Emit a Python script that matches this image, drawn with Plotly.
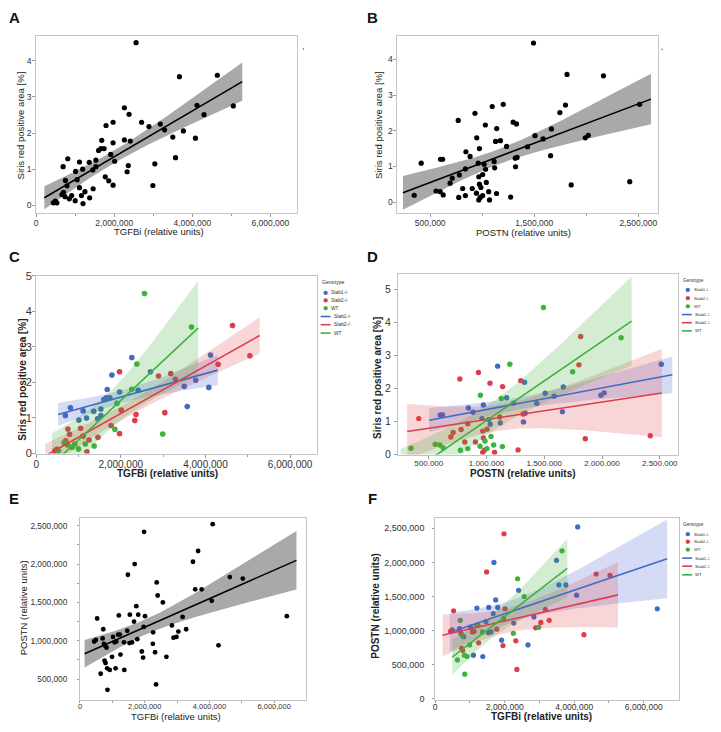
import numpy as np
import plotly.graph_objects as go

W, H = 721, 732
FONT = "Liberation Sans, Arial, sans-serif"

# ---------------- data: panels A & C (TGFBi vs Siris red area) ----------------
TS_STAB1_TGFBI = [690000, 810000, 1110000, 1010000, 1190000, 1360000, 1530000, 1450000, 1530000, 1600000, 1680000, 1660000, 1740000, 1790000, 1970000, 2260000, 2410000, 2700000, 3500000, 3570000, 3770000, 4080000, 4120000]
TS_STAB1_SIRIS = [1.07, 1.29, 1.20, 0.94, 1.00, 1.19, 1.25, 0.98, 1.07, 1.52, 1.80, 1.57, 1.57, 2.21, 1.73, 2.70, 1.78, 2.30, 1.89, 1.32, 2.06, 1.86, 2.77]
TS_STAB2_TGFBI = [440000, 490000, 750000, 790000, 700000, 1050000, 1110000, 1250000, 1200000, 1460000, 1770000, 1970000, 1970000, 2010000, 2330000, 2360000, 2890000, 3040000, 3180000, 3290000, 4300000, 4640000, 5050000]
TS_STAB2_SIRIS = [0.07, 0.12, 0.69, 0.54, 0.36, 0.71, 0.49, 0.38, 0.05, 0.46, 0.79, 2.30, 0.56, 1.22, 0.93, 1.10, 2.18, 1.15, 2.25, 2.09, 2.51, 3.60, 2.75]
TS_WT_TGFBI = [530000, 660000, 740000, 850000, 910000, 1000000, 1160000, 1370000, 1860000, 1910000, 2260000, 2380000, 2560000, 2990000, 3670000]
TS_WT_SIRIS = [0.07, 0.30, 0.24, 0.18, 0.27, 0.13, 0.27, 0.21, 0.68, 1.41, 1.81, 2.52, 4.50, 0.55, 3.56]

# ---------------- data: panels B & D (POSTN vs Siris red area) ----------------
PS_STAB1_POSTN = [2513000, 1096000, 1329000, 1665000, 1174000, 1507000, 1585000, 1234000, 1435000, 1990000, 2019000, 1657000, 973000, 843000, 883000, 599000, 619000, 961000, 1018000, 1032000, 1119000, 1335000, 1320000]
PS_STAB1_SIRIS = [2.74, 2.68, 2.19, 2.05, 1.72, 1.86, 1.77, 1.56, 1.55, 1.80, 1.87, 1.30, 1.50, 1.41, 1.28, 1.20, 1.20, 1.09, 1.06, 0.92, 0.96, 1.25, 0.99]
PS_STAB2_POSTN = [1815000, 1800000, 930000, 769000, 1030000, 1139000, 1297000, 413000, 1114000, 1317000, 838000, 780000, 711000, 691000, 812000, 904000, 967000, 973000, 1004000, 967000, 981000, 1070000, 1273000, 1855000, 2418000]
PS_STAB2_SIRIS = [3.58, 2.72, 2.49, 2.29, 2.16, 2.06, 2.24, 1.09, 1.14, 1.23, 0.93, 0.76, 0.67, 0.53, 0.38, 0.38, 0.71, 0.50, 0.77, 0.06, 0.13, 0.06, 0.14, 0.48, 0.57]
PS_WT_POSTN = [1493000, 2165000, 1202000, 1746000, 947000, 1128000, 1039000, 346000, 556000, 596000, 625000, 774000, 838000, 944000, 987000, 1004000, 1062000, 1137000]
PS_WT_SIRIS = [4.46, 3.54, 2.74, 2.51, 1.80, 1.70, 0.55, 0.19, 0.31, 0.29, 0.20, 0.13, 0.18, 0.25, 0.41, 0.18, 0.29, 0.24]

# ---------------- data: panels E & F (TGFBi vs POSTN) ----------------
TP_STAB1_TGFBI = [4100000, 3490000, 1690000, 3560000, 3760000, 2400000, 1740000, 1200000, 1540000, 1800000, 1670000, 1460000, 1020000, 700000, 1530000, 1610000, 2260000, 2840000, 4070000, 6390000, 1910000, 2670000, 1100000, 1370000, 820000]
TP_STAB1_POSTN = [2520000, 2030000, 2000000, 1670000, 1670000, 1590000, 1450000, 1330000, 1340000, 1340000, 1250000, 1130000, 1050000, 1030000, 970000, 980000, 1110000, 1200000, 1520000, 1320000, 860000, 790000, 640000, 620000, 910000]
TP_STAB2_TGFBI = [1980000, 1480000, 4630000, 5030000, 530000, 2010000, 3170000, 3280000, 3040000, 2890000, 490000, 440000, 740000, 1120000, 1070000, 1770000, 1250000, 760000, 790000, 1950000, 2320000, 4280000, 2350000, 1230000]
TP_STAB2_POSTN = [2420000, 1860000, 1830000, 1810000, 1290000, 1320000, 1310000, 1150000, 1120000, 1040000, 1010000, 990000, 960000, 990000, 980000, 1020000, 820000, 740000, 710000, 780000, 850000, 940000, 430000, 1080000]
TP_WT_TGFBI = [3650000, 2370000, 2560000, 720000, 1180000, 1360000, 1970000, 2250000, 2980000, 990000, 640000, 840000, 920000, 850000, 780000]
TP_WT_POSTN = [2170000, 1760000, 1500000, 1150000, 1080000, 980000, 1180000, 960000, 1050000, 790000, 570000, 640000, 620000, 360000, 930000]

GENOTYPES = ["Stab1-/-", "Stab2-/-", "WT"]
COLORS = ["#3f6cc4", "#dc3d4c", "#3cb43c"]
BAND_COLORS = ["rgba(70,90,210,0.22)", "rgba(225,70,75,0.22)", "rgba(60,175,50,0.22)"]

# tick labels
TGFBI_TICKVALS = [0, 2000000, 4000000, 6000000]
TGFBI_TICKTEXT = ["0", "2,000,000", "4,000,000", "6,000,000"]
POSTN_B_TICKVALS = [500000, 1500000, 2500000]
POSTN_B_TICKTEXT = ["500,000", "1,500,000", "2,500,000"]
POSTN_D_TICKVALS = [500000, 1000000, 1500000, 2000000, 2500000]
POSTN_D_TICKTEXT = ["500.000", "1.000.000", "1.500.000", "2.000.000", "2.500.000"]
SIRIS_AB_TICKVALS = [0, 1, 2, 3, 4]
SIRIS_CD_TICKVALS = [0, 1, 2, 3, 4, 5]
POSTN_E_TICKVALS = [500000, 1000000, 1500000, 2000000, 2500000]
POSTN_E_TICKTEXT = ["500,000", "1,000,000", "1,500,000", "2,000,000", "2,500,000"]
POSTN_F_TICKVALS = [0, 500000, 1000000, 1500000, 2000000, 2500000]
POSTN_F_TICKTEXT = ["0", "500,000", "1,000,000", "1,500,000", "2,000,000", "2,500,000"]


def px_x(x):
    return x / W


def px_y(y):
    return 1 - y / H


def t975(df):
    z = 1.959964
    g1 = (z ** 3 + z) / 4
    g2 = (5 * z ** 5 + 16 * z ** 3 + 3 * z) / 96
    g3 = (3 * z ** 7 + 19 * z ** 5 + 17 * z ** 3 - 15 * z) / 384
    return z + g1 / df + g2 / df ** 2 + g3 / df ** 3


def fit_band(x, y):
    x = np.asarray(x, float)
    y = np.asarray(y, float)
    n = len(x)
    b, a = np.polyfit(x, y, 1)
    res = y - (a + b * x)
    s = np.sqrt(np.sum(res ** 2) / (n - 2))
    xm = x.mean()
    sxx = np.sum((x - xm) ** 2)
    r = x.max() - x.min()
    xs = np.linspace(x.min() - 0.05 * r, x.max() + 0.05 * r, 80)
    ys = a + b * xs
    se = s * np.sqrt(1.0 / n + (xs - xm) ** 2 / sxx)
    t = t975(n - 2)
    return xs, ys, ys - t * se, ys + t * se


fig = go.Figure()
layout_axes = {}
annotations = []
shapes = []

AXCOL = "#c4c4c4"
TICKCOL = "#9a9a9a"


def set_axes(idx, xd, yd, xr, yr, xtv, xtt, ytv, ytt, xfs, yfs, xminor=None, yminor=None,
             xstand=0, ystand=0, tlen=3):
    sx = "" if idx == 1 else str(idx)
    common = dict(showline=True, mirror=True, linecolor=AXCOL, linewidth=1,
                  ticks="outside", ticklen=tlen, tickwidth=1, tickcolor=TICKCOL,
                  showgrid=False, zeroline=False, fixedrange=True)
    xa = dict(domain=[px_x(xd[0]), px_x(xd[1])], range=list(xr), anchor="y" + sx,
              tickmode="array", tickvals=xtv, ticktext=xtt, ticklabelstandoff=int(xstand),
              tickfont=dict(family=FONT, size=xfs, color="#333"), **common)
    ya = dict(domain=[px_y(yd[1]), px_y(yd[0])], range=list(yr), anchor="x" + sx,
              tickmode="array", tickvals=ytv, ticktext=ytt, ticklabelstandoff=int(ystand),
              tickfont=dict(family=FONT, size=yfs, color="#333"), **common)
    if xminor is not None:
        xa["minor"] = dict(tickmode="array", tickvals=xminor, ticks="outside", ticklen=2, tickcolor=TICKCOL)
    if yminor is not None:
        ya["minor"] = dict(tickmode="array", tickvals=yminor, ticks="outside", ticklen=2, tickcolor=TICKCOL)
    layout_axes["xaxis" + sx] = xa
    layout_axes["yaxis" + sx] = ya
    return "x" + sx, "y" + sx


def ann(text, x, y, size, bold=False, angle=0, xanchor="center", color="#222"):
    annotations.append(dict(text=("<b>%s</b>" % text) if bold else text, x=px_x(x), y=px_y(y),
                            xref="paper", yref="paper", showarrow=False, textangle=angle,
                            xanchor=xanchor, yanchor="middle", borderpad=0,
                            font=dict(family=FONT, size=size, color=color)))


def mono_panel(xa, ya, xs_all, ys_all, msize):
    xs, yl, lo, hi = fit_band(xs_all, ys_all)
    fig.add_trace(go.Scatter(x=list(xs) + list(xs[::-1]), y=list(lo) + list(hi[::-1]), xaxis=xa, yaxis=ya,
                             fill="toself", fillcolor="#a9a9a9", line=dict(width=0), mode="lines",
                             hoverinfo="skip", showlegend=False))
    fig.add_trace(go.Scatter(x=xs_all, y=ys_all, xaxis=xa, yaxis=ya, mode="markers",
                             marker=dict(color="black", size=msize), showlegend=False))
    fig.add_trace(go.Scatter(x=xs, y=yl, xaxis=xa, yaxis=ya, mode="lines",
                             line=dict(color="black", width=1.5), showlegend=False))


def group_panel(xa, ya, groups_x, groups_y, msize):
    for gx, gy, c, name in zip(groups_x, groups_y, COLORS, GENOTYPES):
        fig.add_trace(go.Scatter(x=gx, y=gy, xaxis=xa, yaxis=ya, mode="markers", name=name,
                                 marker=dict(color=c, size=msize), showlegend=False))
    fits = [fit_band(gx, gy) for gx, gy in zip(groups_x, groups_y)]
    for (xs, yl, lo, hi), bc in zip(fits, BAND_COLORS):
        fig.add_trace(go.Scatter(x=list(xs) + list(xs[::-1]), y=list(lo) + list(hi[::-1]), xaxis=xa, yaxis=ya,
                                 fill="toself", fillcolor=bc, line=dict(width=0), mode="lines",
                                 hoverinfo="skip", showlegend=False))
    for (xs, yl, lo, hi), c in zip(fits, COLORS):
        fig.add_trace(go.Scatter(x=xs, y=yl, xaxis=xa, yaxis=ya, mode="lines",
                                 line=dict(color=c, width=1.6), showlegend=False))


def legend(tx, ty, mx, mys, lx0, lx1, lys, labx, linelabx, fs, tfs):
    ann("Genotype", tx, ty, tfs, xanchor="left", color="#333")
    r = 2.2
    for y, c, g in zip(mys, COLORS, GENOTYPES):
        shapes.append(dict(type="circle", xref="paper", yref="paper", x0=px_x(mx - r), x1=px_x(mx + r),
                           y0=px_y(y + r), y1=px_y(y - r), fillcolor=c, line=dict(width=0)))
        ann(g, labx, y, fs, xanchor="left", color="#333")
    for y, c, g in zip(lys, COLORS, GENOTYPES):
        shapes.append(dict(type="line", xref="paper", yref="paper", x0=px_x(lx0), x1=px_x(lx1),
                           y0=px_y(y), y1=px_y(y), line=dict(color=c, width=1.6)))
        ann(g, linelabx, y, fs, xanchor="left", color="#333")


ALL_TS_TGFBI = TS_STAB1_TGFBI + TS_STAB2_TGFBI + TS_WT_TGFBI
ALL_TS_SIRIS = TS_STAB1_SIRIS + TS_STAB2_SIRIS + TS_WT_SIRIS
ALL_PS_POSTN = PS_STAB1_POSTN + PS_STAB2_POSTN + PS_WT_POSTN
ALL_PS_SIRIS = PS_STAB1_SIRIS + PS_STAB2_SIRIS + PS_WT_SIRIS
ALL_TP_TGFBI = TP_STAB1_TGFBI + TP_STAB2_TGFBI + TP_WT_TGFBI
ALL_TP_POSTN = TP_STAB1_POSTN + TP_STAB2_POSTN + TP_WT_POSTN

MINOR_T = [1000000, 3000000, 5000000]

# ---- Panel A ----
xa, ya = set_axes(1, (33.3, 295), (30.7, 210), (0, 6.676e6), (-0.199, 4.68),
                  TGFBI_TICKVALS, TGFBI_TICKTEXT, SIRIS_AB_TICKVALS, [str(v) for v in SIRIS_AB_TICKVALS],
                  8.5, 8.5, xminor=MINOR_T, xstand=-1, ystand=-1)
mono_panel(xa, ya, ALL_TS_TGFBI, ALL_TS_SIRIS, 5.2)
ann("TGFBi (relative units)", 157, 229.5, 9.5, color="#222")
ann("Siris red positive area [%]", 17.5, 121, 9.5, angle=-90, color="#222")

# ---- Panel B ----
xa, ya = set_axes(2, (396, 657.7), (30.7, 210), (0.184e6, 2.689e6), (-0.295, 4.651),
                  POSTN_B_TICKVALS, POSTN_B_TICKTEXT, SIRIS_AB_TICKVALS, [str(v) for v in SIRIS_AB_TICKVALS],
                  8.5, 8.5, xminor=[1000000, 2000000], xstand=-1, ystand=-1)
mono_panel(xa, ya, ALL_PS_POSTN, ALL_PS_SIRIS, 5.2)
ann("POSTN (relative units)", 523, 230.5, 9.5, color="#222")
ann("Siris red positive area [%]", 376.5, 121, 9.5, angle=-90, color="#222")

# ---- Panel C ----
xa, ya = set_axes(3, (33.3, 315.7), (274.3, 455), (0, 6.645e6), (0, 5),
                  TGFBI_TICKVALS, TGFBI_TICKTEXT, SIRIS_CD_TICKVALS, [str(v) for v in SIRIS_CD_TICKVALS],
                  10, 11, xminor=MINOR_T, xstand=-2, ystand=-2)
group_panel(xa, ya, [TS_STAB1_TGFBI, TS_STAB2_TGFBI, TS_WT_TGFBI],
            [TS_STAB1_SIRIS, TS_STAB2_SIRIS, TS_WT_SIRIS], 5.6)
ann("TGFBi (relative units)", 165, 475, 10, bold=True, color="#222")
ann("Siris red positive area [%]", 20, 380, 10, bold=True, angle=-90, color="#222")
legend(319, 281, 324, [291.7, 299.3, 307.3], 319, 329, [315.7, 324, 332.5], 328, 331, 4.8, 5.2)

# ---- Panel D ----
xa, ya = set_axes(4, (396.7, 678.3), (272.3, 456), (0.234e6, 2.662e6), (0, 5.48),
                  POSTN_D_TICKVALS, POSTN_D_TICKTEXT, SIRIS_CD_TICKVALS, [str(v) for v in SIRIS_CD_TICKVALS],
                  8, 10.5, xstand=-2, ystand=1)
group_panel(xa, ya, [PS_STAB1_POSTN, PS_STAB2_POSTN, PS_WT_POSTN],
            [PS_STAB1_SIRIS, PS_STAB2_SIRIS, PS_WT_SIRIS], 5.4)
ann("POSTN (relative units)", 521.7, 475.5, 10, bold=True, color="#222")
ann("Siris red positive area [%]", 376.7, 378, 10, bold=True, angle=-90, color="#222")
legend(681.7, 279, 687.7, [288.7, 297, 305.3], 681.7, 691.7, [313.7, 322, 330.3], 693, 694, 4.3, 4.7)

# ---- Panel E ----
xa, ya = set_axes(5, (77.3, 304.5), (521, 706), (0, 6.99e6), (0.222e6, 2.594e6),
                  TGFBI_TICKVALS, TGFBI_TICKTEXT, POSTN_E_TICKVALS, POSTN_E_TICKTEXT,
                  7.5, 8.3, xminor=MINOR_T, yminor=[750000, 1250000, 1750000, 2250000],
                  xstand=-3, ystand=8, tlen=2)
mono_panel(xa, ya, ALL_TP_TGFBI, ALL_TP_POSTN, 4.8)
ann("TGFBi (relative units)", 173.7, 722.5, 9.5, color="#222")
ann("POSTN (relative units)", 20.7, 611.7, 9.5, angle=-90, color="#222")

# ---- Panel F ----
xa, ya = set_axes(6, (434, 679), (520.7, 705.7), (0, 7.02e6), (-0.02e6, 2.649e6),
                  TGFBI_TICKVALS, TGFBI_TICKTEXT, POSTN_F_TICKVALS, POSTN_F_TICKTEXT,
                  8.5, 9, xminor=MINOR_T, xstand=-3, ystand=6, tlen=2)
group_panel(xa, ya, [TP_STAB1_TGFBI, TP_STAB2_TGFBI, TP_WT_TGFBI],
            [TP_STAB1_POSTN, TP_STAB2_POSTN, TP_WT_POSTN], 5.2)
ann("TGFBi (relative units)", 540.7, 722.5, 10, bold=True, color="#222")
ann("POSTN (relative units)", 373.3, 610, 10, bold=True, angle=-90, color="#222")
legend(682.3, 527.3, 687.7, [537, 544.7, 552.7], 682, 692, [561.3, 569.5, 578.3], 693.3, 694, 4.3, 4.7)

# ---- panel letters ----
for letter, x, y in [("A", 12, 11.5), ("B", 371, 11.5), ("C", 11.5, 254.5),
                     ("D", 371, 254.5), ("E", 11.5, 500.5), ("F", 371, 500.5)]:
    ann(letter, x, y, 15, bold=True, color="#111")

# tiny stray dots at top right of A and B
for cx, cy in [(301.7, 43.7), (661.7, 44.0)]:
    shapes.append(dict(type="circle", xref="paper", yref="paper", x0=px_x(cx - 0.7), x1=px_x(cx + 0.7),
                       y0=px_y(cy + 0.7), y1=px_y(cy - 0.7), fillcolor="#555", line=dict(width=0)))

fig.update_layout(width=W, height=H, margin=dict(l=0, r=0, t=0, b=0),
                  paper_bgcolor="white", plot_bgcolor="white", showlegend=False,
                  annotations=annotations, shapes=shapes, **layout_axes)

fig.write_html("out.html", config={"displayModeBar": False, "staticPlot": True},
               post_script="document.body.style.margin='0px';document.body.style.overflow='hidden';")
